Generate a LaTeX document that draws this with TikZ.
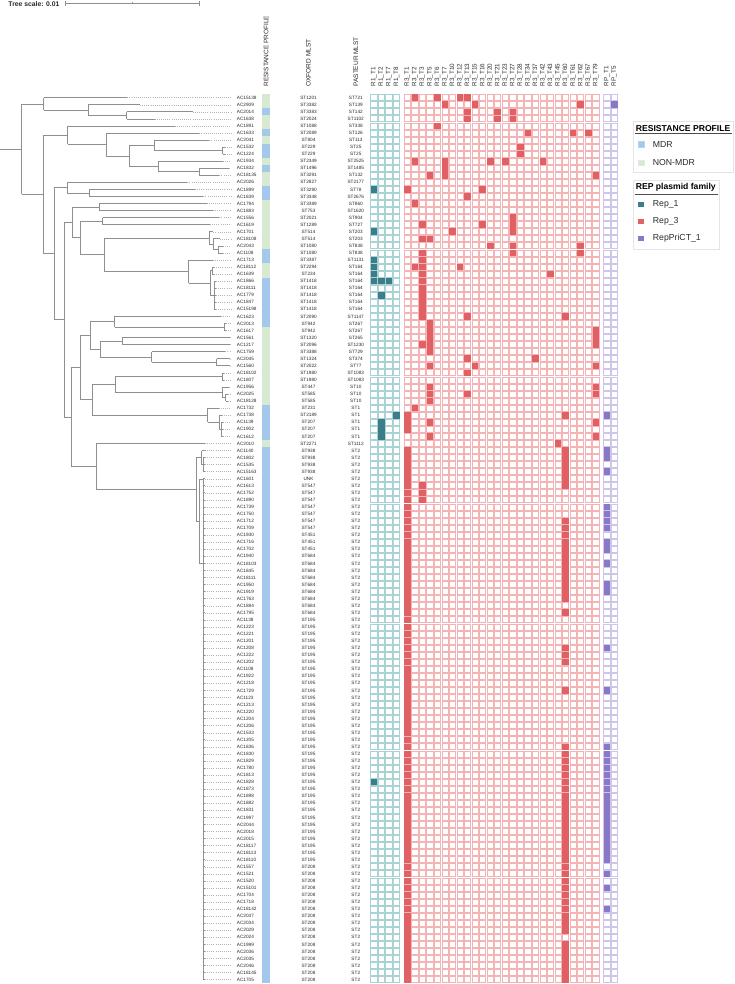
\documentclass[tikz,border=0pt]{standalone}
\usepackage{fontspec}
\setmainfont{Liberation Sans}
\definecolor{mdr}{HTML}{A4C8EC}
\definecolor{non}{HTML}{D8E9D2}
\definecolor{tealF}{HTML}{3B7D89}
\definecolor{tealL}{HTML}{A9D2D4}
\definecolor{redF}{HTML}{E06063}
\definecolor{redL}{HTML}{F4B3B5}
\definecolor{purF}{HTML}{8A78C6}
\definecolor{purL}{HTML}{CEC6EA}
\definecolor{treeC}{HTML}{8F8F8F}
\definecolor{dotC}{HTML}{B5B5B5}
\definecolor{txt}{HTML}{2B2B2B}
\definecolor{boxC}{HTML}{E4E4E4}
\newcommand\trL[3]{\pgfmathsetmacro\trLy{97.7+(#3-1)*7.056}\draw[br] (#1,\trLy) -- (#2,\trLy); \draw[lead] (#2,\trLy) -- (231,\trLy);}
\newcommand\trV[3]{\draw[br] (#1,#2) -- (#1,#3);}
\newcommand\trH[3]{\draw[br] (#1,#3) -- (#2,#3);}
\newcommand\cellA[2]{\pgfmathsetmacro\cy{97.7+(#1-1)*7.056}\pgfmathsetmacro\cx{373.8+7.56*#2}\fill[tealF] (\cx-3.3,\cy-3.3) rectangle ++(6.6,6.6);}
\newcommand\cellB[2]{\pgfmathsetmacro\cy{97.7+(#1-1)*7.056}\pgfmathsetmacro\cx{407.3+7.54*#2}\fill[redF] (\cx-3.3,\cy-3.3) rectangle ++(6.6,6.6);}
\newcommand\cellC[2]{\pgfmathsetmacro\cy{97.7+(#1-1)*7.056}\pgfmathsetmacro\cx{606.8+7.56*#2}\fill[purF] (\cx-3.3,\cy-3.3) rectangle ++(6.6,6.6);}
\begin{document}
\begin{tikzpicture}[x=1pt,y=-1pt,
  br/.style={draw=treeC,line width=0.7pt},
  lead/.style={draw=dotC,line width=0.45pt,dash pattern=on 0.8pt off 1.3pt},
  lab/.style={font=\fontsize{4.7}{5}\selectfont,inner sep=0pt,text=txt},
  hdr/.style={font=\fontsize{6.3}{7}\selectfont,inner sep=0pt,text=txt,rotate=90,anchor=west},
  bighdr/.style={font=\fontsize{6.5}{7}\selectfont,inner sep=0pt,text=txt,rotate=90,anchor=west},
  lgtitle/.style={font=\bfseries\fontsize{8.6}{10}\selectfont,inner sep=0pt,anchor=west,text=black},
  lgitem/.style={font=\fontsize{8.7}{10}\selectfont,inner sep=0pt,anchor=west,text=txt},
  lgbox/.style={draw=boxC,line width=0.6pt,fill=white}]
\useasboundingbox (0,0) rectangle (735,984);
\fill[white] (0,0) rectangle (735,984);

% tree scale
\node[font=\bfseries\fontsize{6.8}{8}\selectfont,text=txt,inner sep=0pt,anchor=west] (scale) at (8.3,3.6) {Tree scale: 0.01};
\draw[treeC,line width=0.7pt] (65.7,3.6) -- (199.3,3.6);
\draw[treeC,line width=0.7pt] (65.7,1.4) -- (65.7,5.8);
\draw[treeC,line width=0.7pt] (199.3,1.4) -- (199.3,5.8);
\draw[treeC,line width=0.6pt] (132.5,2.2) -- (132.5,3.6);

% tree
\trH{0}{21.7}{149.3}
\trV{21.7}{104}{194.5}
\trH{21.7}{43.7}{104}
\trV{43.7}{97.7}{110.05}
\trL{43.7}{127.3}{1}
\trH{43.7}{88.3}{110.05}
\trV{88.3}{104.76}{115.34}
\trL{88.3}{140}{2}
\trH{88.3}{126.7}{115.34}
\trV{126.7}{111.81}{118.87}
\trL{126.7}{192.7}{3}
\trL{126.7}{154.7}{4}
\trH{21.7}{43.7}{194.5}
\trV{43.7}{135.2}{253.6}
\trH{43.7}{67.7}{135.2}
\trV{67.7}{125.92}{144.5}
\trL{67.7}{174.7}{5}
\trH{67.7}{106.3}{144.5}
\trV{106.3}{132.98}{156}
\trL{106.3}{199.3}{6}
\trH{106.3}{129.3}{156}
\trV{129.3}{145.33}{166.5}
\trH{129.3}{154.3}{145.33}
\trV{154.3}{140.04}{150.62}
\trL{154.3}{209.3}{7}
\trH{154.3}{222.7}{150.62}
\trV{222.7}{147.09}{154.15}
\trL{222.7}{224.5}{8}
\trL{222.7}{224.5}{9}
\trH{129.3}{158.3}{166.5}
\trV{158.3}{161.2}{171.79}
\trL{158.3}{222.7}{10}
\trH{158.3}{199.3}{171.79}
\trV{199.3}{168.26}{175.32}
\trL{199.3}{229.3}{11}
\trL{199.3}{219.3}{12}
\trH{43.7}{54.3}{253.6}
\trV{54.3}{187.66}{319.7}
\trH{54.3}{67}{187.66}
\trV{67}{182.37}{192.96}
\trL{67}{187.3}{13}
\trH{67}{89.3}{192.96}
\trV{89.3}{189.43}{196.48}
\trL{89.3}{195}{14}
\trL{89.3}{203.3}{15}
\trH{54.3}{64.3}{319.7}
\trV{64.3}{222.4}{417.0}
\trH{64.3}{72.7}{222.4}
\trV{72.7}{207.07}{237.7}
\trH{72.7}{99.3}{207.07}
\trV{99.3}{203.54}{210.60}
\trL{99.3}{206.7}{16}
\trL{99.3}{212.7}{17}
\trH{72.7}{80.3}{237.7}
\trV{80.3}{221.18}{254.65}
\trH{80.3}{102.7}{221.18}
\trV{102.7}{217.65}{224.71}
\trL{102.7}{219.3}{18}
\trL{102.7}{210}{19}
\trH{80.3}{104.3}{254.65}
\trV{104.3}{237.9}{271.4}
\trH{104.3}{209.3}{237.9}
\trV{209.3}{231.76}{244.1}
\trL{209.3}{213.3}{20}
\trH{209.3}{213.3}{244.1}
\trV{213.3}{238.82}{249.4}
\trL{213.3}{220}{21}
\trH{213.3}{218}{249.4}
\trV{218}{245.88}{252.93}
\trL{218}{223}{22}
\trL{218}{223}{23}
\trH{104.3}{188.7}{271.4}
\trV{188.7}{259.99}{282.9}
\trL{188.7}{212.7}{24}
\trH{188.7}{210}{282.9}
\trV{210}{270.57}{295.27}
\trH{210}{212}{270.57}
\trV{212}{267.04}{274.10}
\trL{212}{214}{25}
\trL{212}{214}{26}
\trH{210}{214.3}{295.27}
\trV{214.3}{281.16}{309.38}
\foreach \i in {27,...,31}{\trL{214.3}{216}{\i}}
\trH{64.3}{71.3}{417.0}
\trV{71.3}{367.75}{466.4}
\trH{71.3}{80.3}{367.75}
\trV{80.3}{335.8}{399.7}
\trH{80.3}{90}{335.8}
\trV{90}{321.7}{349.2}
\trH{90}{114.7}{321.7}
\trV{114.7}{316.44}{327.02}
\trL{114.7}{221}{32}
\trH{114.7}{224.3}{327.02}
\trV{224.3}{323.49}{330.55}
\trL{224.3}{226}{33}
\trL{224.3}{226}{34}
\trH{90}{100.3}{349.2}
\trV{100.3}{341.13}{357.0}
\trH{100.3}{122.3}{341.13}
\trV{122.3}{337.60}{344.66}
\trL{122.3}{230}{35}
\trL{122.3}{230}{36}
\trH{100.3}{151.7}{357.0}
\trV{151.7}{351.72}{362.3}
\trL{151.7}{225.3}{37}
\trH{151.7}{216.7}{362.3}
\trV{216.7}{358.77}{365.83}
\trL{216.7}{230}{38}
\trL{216.7}{230}{39}
\trH{80.3}{92}{399.7}
\trV{92}{384.35}{415.2}
\trH{92}{115.3}{384.35}
\trV{115.3}{376.41}{392.29}
\trH{115.3}{222.3}{376.41}
\trV{222.3}{372.88}{379.94}
\trL{222.3}{224}{40}
\trL{222.3}{224}{41}
\trH{115.3}{222.7}{392.29}
\trV{222.7}{387.00}{397.58}
\trL{222.7}{229}{42}
\trH{222.7}{225.7}{397.58}
\trV{225.7}{394.05}{401.11}
\trL{225.7}{227.5}{43}
\trL{225.7}{227.5}{44}
\trH{92}{207.7}{415.2}
\trV{207.7}{408.16}{422.3}
\trL{207.7}{218.7}{45}
\trH{207.7}{219.3}{422.3}
\trV{219.3}{415.22}{429.33}
\trL{219.3}{222}{46}
\trH{219.3}{221}{429.33}
\trV{221}{422.28}{436.39}
\foreach \i in {47,48,49}{\trL{221}{223}{\i}}
\trH{71.3}{96.3}{466.4}
\trV{96.3}{443.44}{489.4}
\trL{96.3}{205}{50}
\trH{96.3}{196.7}{489.4}
\trV{196.7}{457.3}{521.5}
\trH{196.7}{201.7}{457.3}
\trV{201.7}{450.5}{464.61}
\trL{201.7}{205}{51}
\trH{201.7}{203}{464.61}
\trV{203}{457.56}{471.67}
\foreach \i in {52,53,54}{\trL{203}{205}{\i}}
\trH{196.7}{199.3}{521.5}
\trV{199.3}{479.3}{563.7}
\trH{199.3}{203.3}{479.3}
\trH{199.3}{203.3}{563.7}
\trV{203.3}{478.72}{979.7}
\foreach \i in {55,...,126}{\trL{203.3}{205}{\i}}

% headers
\node[bighdr] (hres) at (266.2,86.7) {RESISTANCE PROFILE};
\node[bighdr] (hox) at (308.5,86.7) {OXFORD MLST};
\node[bighdr] (hpa) at (355.8,86.7) {PASTEUR MLST};
\foreach \t [count=\k from 0] in {1,2,7,8}{
  \node[hdr] (ha\k) at (373.8+7.56*\k,86.3) {R1\_T\t};}
\foreach \t [count=\k from 0] in {1,2,3,5,6,7,10,12,13,15,16,20,21,23,27,28,34,37,42,43,45,60,61,62,67,79}{
  \node[hdr] (hb\k) at (407.3+7.54*\k,86.3) {R3\_T\t};}
\foreach \t [count=\k from 0] in {1,5}{
  \node[hdr] (hc\k) at (606.8+7.56*\k,86.3) {RP\_T\t};}

% rows: labels, resistance strip, empty cells
\foreach \i/\sn/\ox/\pa/\rc in {
1/AC15138/ST1201/ST721/non,
2/AC2909/ST3382/ST139/non,
3/AC2014/ST3383/ST142/mdr,
4/AC1638/ST2024/ST1102/non,
5/AC1891/ST1088/ST338/non,
6/AC1633/ST2089/ST126/mdr,
7/AC2041/ST804/ST113/non,
8/AC1532/ST229/ST25/mdr,
9/AC1224/ST229/ST25/mdr,
10/AC1934/ST2349/ST2525/non,
11/AC1832/ST1496/ST1485/mdr,
12/AC18135/ST3291/ST132/non,
13/AC2026/ST2827/ST2177/non,
14/AC1899/ST3290/ST78/mdr,
15/AC1839/ST3348/ST2676/mdr,
16/AC1794/ST3389/ST860/non,
17/AC1883/ST753/ST1620/non,
18/AC1556/ST2021/ST904/non,
19/AC1619/ST1289/ST727/non,
20/AC1701/ST514/ST203/non,
21/AC18108/ST514/ST203/non,
22/AC2043/ST1080/ST838/non,
23/AC1108/ST1080/ST838/mdr,
24/AC1713/ST3387/ST1131/mdr,
25/AC18112/ST2294/ST164/non,
26/AC1639/ST234/ST164/non,
27/AC1866/ST1418/ST164/mdr,
28/AC18111/ST1418/ST164/mdr,
29/AC1779/ST1418/ST164/mdr,
30/AC1847/ST1418/ST164/mdr,
31/AC15198/ST1418/ST164/mdr,
32/AC1623/ST2090/ST1147/mdr,
33/AC2013/ST942/ST267/mdr,
34/AC1617/ST942/ST267/non,
35/AC1561/ST1320/ST265/non,
36/AC1217/ST2096/ST1230/non,
37/AC1759/ST3388/ST729/non,
38/AC2045/ST1324/ST374/non,
39/AC1560/ST2022/ST77/non,
40/AC18102/ST1980/ST1083/non,
41/AC1807/ST1980/ST1083/non,
42/AC1956/ST447/ST10/non,
43/AC2025/ST585/ST10/non,
44/AC18128/ST585/ST10/non,
45/AC1732/ST231/ST1/mdr,
46/AC1738/ST2189/ST1/mdr,
47/AC1139/ST207/ST1/mdr,
48/AC1902/ST207/ST1/mdr,
49/AC1612/ST207/ST1/mdr,
50/AC2010/ST2271/ST1112/non,
51/AC1140/ST938/ST2/mdr,
52/AC1802/ST938/ST2/mdr,
53/AC1535/ST938/ST2/mdr,
54/AC15163/ST938/ST2/mdr,
55/AC1601/UNK/ST2/mdr,
56/AC1613/ST547/ST2/mdr,
57/AC1752/ST547/ST2/mdr,
58/AC1890/ST547/ST2/mdr,
59/AC1739/ST547/ST2/mdr,
60/AC1750/ST547/ST2/mdr,
61/AC1712/ST547/ST2/mdr,
62/AC1709/ST547/ST2/mdr,
63/AC1930/ST451/ST2/mdr,
64/AC1716/ST451/ST2/mdr,
65/AC1702/ST451/ST2/mdr,
66/AC1940/ST684/ST2/mdr,
67/AC18103/ST684/ST2/mdr,
68/AC1845/ST684/ST2/mdr,
69/AC18111/ST684/ST2/mdr,
70/AC1950/ST684/ST2/mdr,
71/AC1919/ST684/ST2/mdr,
72/AC1763/ST684/ST2/mdr,
73/AC1884/ST684/ST2/mdr,
74/AC1795/ST684/ST2/mdr,
75/AC1138/ST195/ST2/mdr,
76/AC1223/ST195/ST2/mdr,
77/AC1221/ST195/ST2/mdr,
78/AC1201/ST195/ST2/mdr,
79/AC1208/ST195/ST2/mdr,
80/AC1222/ST195/ST2/mdr,
81/AC1202/ST195/ST2/mdr,
82/AC1108/ST195/ST2/mdr,
83/AC1922/ST195/ST2/mdr,
84/AC1218/ST195/ST2/mdr,
85/AC1729/ST195/ST2/mdr,
86/AC1123/ST195/ST2/mdr,
87/AC1213/ST195/ST2/mdr,
88/AC1220/ST195/ST2/mdr,
89/AC1204/ST195/ST2/mdr,
90/AC1206/ST195/ST2/mdr,
91/AC1533/ST195/ST2/mdr,
92/AC1205/ST195/ST2/mdr,
93/AC1836/ST195/ST2/mdr,
94/AC1830/ST195/ST2/mdr,
95/AC1829/ST195/ST2/mdr,
96/AC1780/ST195/ST2/mdr,
97/AC1813/ST195/ST2/mdr,
98/AC1828/ST195/ST2/mdr,
99/AC1873/ST195/ST2/mdr,
100/AC1898/ST195/ST2/mdr,
101/AC1882/ST195/ST2/mdr,
102/AC1831/ST195/ST2/mdr,
103/AC1997/ST195/ST2/mdr,
104/AC2044/ST195/ST2/mdr,
105/AC2018/ST195/ST2/mdr,
106/AC2015/ST195/ST2/mdr,
107/AC18117/ST195/ST2/mdr,
108/AC18113/ST195/ST2/mdr,
109/AC18110/ST195/ST2/mdr,
110/AC1557/ST208/ST2/mdr,
111/AC1521/ST208/ST2/mdr,
112/AC1520/ST208/ST2/mdr,
113/AC15101/ST208/ST2/mdr,
114/AC1704/ST208/ST2/mdr,
115/AC1718/ST208/ST2/mdr,
116/AC18142/ST208/ST2/mdr,
117/AC2037/ST208/ST2/mdr,
118/AC2034/ST208/ST2/mdr,
119/AC2029/ST208/ST2/mdr,
120/AC2024/ST208/ST2/mdr,
121/AC1999/ST208/ST2/mdr,
122/AC2036/ST208/ST2/mdr,
123/AC2035/ST208/ST2/mdr,
124/AC2046/ST208/ST2/mdr,
125/AC18145/ST208/ST2/mdr,
126/AC1705/ST208/ST2/mdr}{
  \pgfmathsetmacro\cy{97.7+(\i-1)*7.056}
  \fill[\rc] (262.3,\cy-3.55) rectangle (270,\cy+3.6);
  \node[lab,anchor=west] (s\i) at (236.7,\cy) {\sn};
  \node[lab] (o\i) at (308.5,\cy) {\ox};
  \node[lab] (p\i) at (355.8,\cy) {\pa};
  \draw[tealL,line width=0.8pt] \foreach \k in {0,...,3}{(373.8+7.56*\k-3.1,\cy-3) rectangle ++(6.2,6)};
  \draw[redL,line width=0.8pt] \foreach \k in {0,...,25}{(407.3+7.54*\k-3.1,\cy-3) rectangle ++(6.2,6)};
  \draw[purL,line width=0.8pt] \foreach \k in {0,1}{(606.8+7.56*\k-3.1,\cy-3) rectangle ++(6.2,6)};
}

% filled cells R1
\foreach \i/\k in {14/0,20/0,24/0,25/0,26/0,27/0,27/1,27/2,29/1,46/3,47/1,48/1,49/1,98/0}{\cellA{\i}{\k}}
% filled cells R3
\foreach \i/\k in {1/1,1/4,1/7,1/8,2/5,2/9,2/23,3/8,3/12,3/14,4/8,4/12,4/14,5/4,6/16,6/22,6/24,8/15,9/15,
10/1,10/5,10/11,10/13,10/18,11/5,12/3,12/5,12/25,14/10,15/8,16/1,18/14,19/2,19/10,19/14,20/6,20/14,
21/2,21/3,22/11,22/14,22/23,23/2,23/14,23/23,24/2,25/1,25/2,25/7,26/2,26/19,27/2,28/2,29/2,30/2,31/2,
32/2,32/8,33/3,34/3,34/25,35/3,35/25,36/2,36/3,36/25,37/3,38/8,38/17,39/3,39/9,39/25,40/8,42/3,42/25,
43/3,43/8,43/25,44/3,45/1,47/3,47/25,49/3,49/25,50/20,56/2,57/2,58/2}{\cellB{\i}{\k}}
\foreach \i in {14,46,47,48}{\cellB{\i}{0}}
\foreach \i in {51,...,126}{\cellB{\i}{0}}
\foreach \i in {32,46,74,85,79,80,81}{\cellB{\i}{21}}
\foreach \i in {51,...,56}{\cellB{\i}{21}}
\foreach \i in {61,...,72}{\cellB{\i}{21}}
\foreach \i in {93,...,119}{\cellB{\i}{21}}
\foreach \i in {121,...,126}{\cellB{\i}{21}}
% filled cells RP
\cellC{2}{1}
\foreach \i in {46,51,52,54,59,60,61,62,64,65,67,70,71,79,85,111,113,116}{\cellC{\i}{0}}
\foreach \i in {93,...,109}{\cellC{\i}{0}}

% legend
\draw[lgbox] (633.3,121.7) rectangle (733.5,172.7);
\node[lgtitle] (lt1) at (635.7,128.3) {RESISTANCE PROFILE};
\draw[black!70,line width=0.8pt] (635,133.6) -- (731.8,133.6);
\filldraw[fill=mdr,draw=mdr!80!white] (638.3,141.6) rectangle ++(5.4,5.4);
\node[lgitem] (l1) at (652.7,144.3) {MDR};
\filldraw[fill=non,draw=non!80!white] (638.3,160) rectangle ++(5.4,5.4);
\node[lgitem] (l2) at (652.7,162.7) {NON-MDR};

\draw[lgbox] (633.3,180) rectangle (719.3,249);
\node[lgtitle] (lt2) at (635.7,186.9) {REP plasmid family};
\draw[black!70,line width=0.8pt] (635,194.2) -- (717.8,194.2);
\fill[tealF] (638.3,201.6) rectangle ++(5.4,5.4);
\node[lgitem] (l3) at (652.7,204.3) {Rep\_1};
\fill[redF] (638.3,219) rectangle ++(5.4,5.4);
\node[lgitem] (l4) at (652.7,221.7) {Rep\_3};
\fill[purF] (638.3,236) rectangle ++(5.4,5.4);
\node[lgitem] (l5) at (652.7,238.7) {RepPriCT\_1};
\end{tikzpicture}
\end{document}
